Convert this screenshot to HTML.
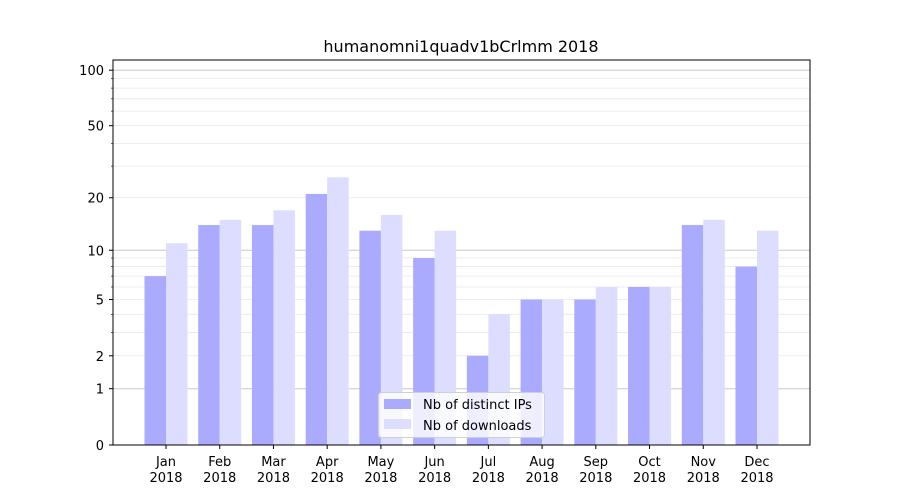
<!DOCTYPE html>
<html><head><meta charset="utf-8"><style>body{margin:0;background:#fff}svg{display:block;font-family:"DejaVu Sans","Liberation Sans",sans-serif}</style></head>
<body><svg id="s" width="900" height="500" xmlns="http://www.w3.org/2000/svg"></svg>
<script>
const s=document.getElementById('s');let h='';
const f=y=>445-187*Math.log10(1+y);
// grid
for(const d of [1,10]) for(let k=2;k<=9;k++){const y=f(k*d);h+=`<line x1="113" x2="810" y1="${y}" y2="${y}" stroke="#e8e8e8" stroke-width="0.8"/>`;}
for(const v of [1,10,100]){const y=f(v);h+=`<line x1="113" x2="810" y1="${y}" y2="${y}" stroke="#c8c8c8" stroke-width="1"/>`;}
const ip=[7,14,14,21,13,9,2,5,5,6,14,8],dl=[11,15,17,26,16,13,4,5,6,6,15,13];
const m=['Jan','Feb','Mar','Apr','May','Jun','Jul','Aug','Sep','Oct','Nov','Dec'];
for(let i=0;i<12;i++){const c=166+i*53.727;
h+=`<rect x="${c-21.5}" y="${f(ip[i])}" width="21.5" height="${445-f(ip[i])}" fill="#aaaaff"/>`;
h+=`<rect x="${c}" y="${f(dl[i])}" width="21.5" height="${445-f(dl[i])}" fill="#ddddff"/>`;
h+=`<line x1="${c}" x2="${c}" y1="445" y2="449" stroke="#000"/>`;
h+=`<text x="${c}" y="466" font-size="13" text-anchor="middle">${m[i]}</text><text x="${c}" y="482" font-size="13" text-anchor="middle">2018</text>`;}
for(const v of [0,1,2,5,10,20,50,100]){const y=f(v);h+=`<line x1="109" x2="113" y1="${y}" y2="${y}" stroke="#000"/><text x="104" y="${y+5}" font-size="13" text-anchor="end">${v}</text>`;}
for(const d of [1,10]) for(let k=2;k<=9;k++){if(k==2||k==5)continue;const y=f(k*d);h+=`<line x1="111" x2="113" y1="${y}" y2="${y}" stroke="#000" stroke-width="0.6"/>`;}
h+=`<rect x="113" y="60" width="697" height="385" fill="none" stroke="#000"/>`;
h+=`<text x="461" y="52" font-size="16" text-anchor="middle">humanomni1quadv1bCrlmm 2018</text>`;
h+=`<rect x="378.5" y="392.5" width="166" height="45" rx="3" fill="#fff" fill-opacity="0.8" stroke="#d0d0d0"/>`;
h+=`<rect x="384" y="399" width="27" height="10" fill="#aaaaff"/><rect x="384" y="419" width="27" height="10" fill="#ddddff"/>`;
h+=`<text x="423" y="409" font-size="13">Nb of distinct IPs</text><text x="423" y="430" font-size="13">Nb of downloads</text>`;
s.innerHTML=h;
</script></body></html>
